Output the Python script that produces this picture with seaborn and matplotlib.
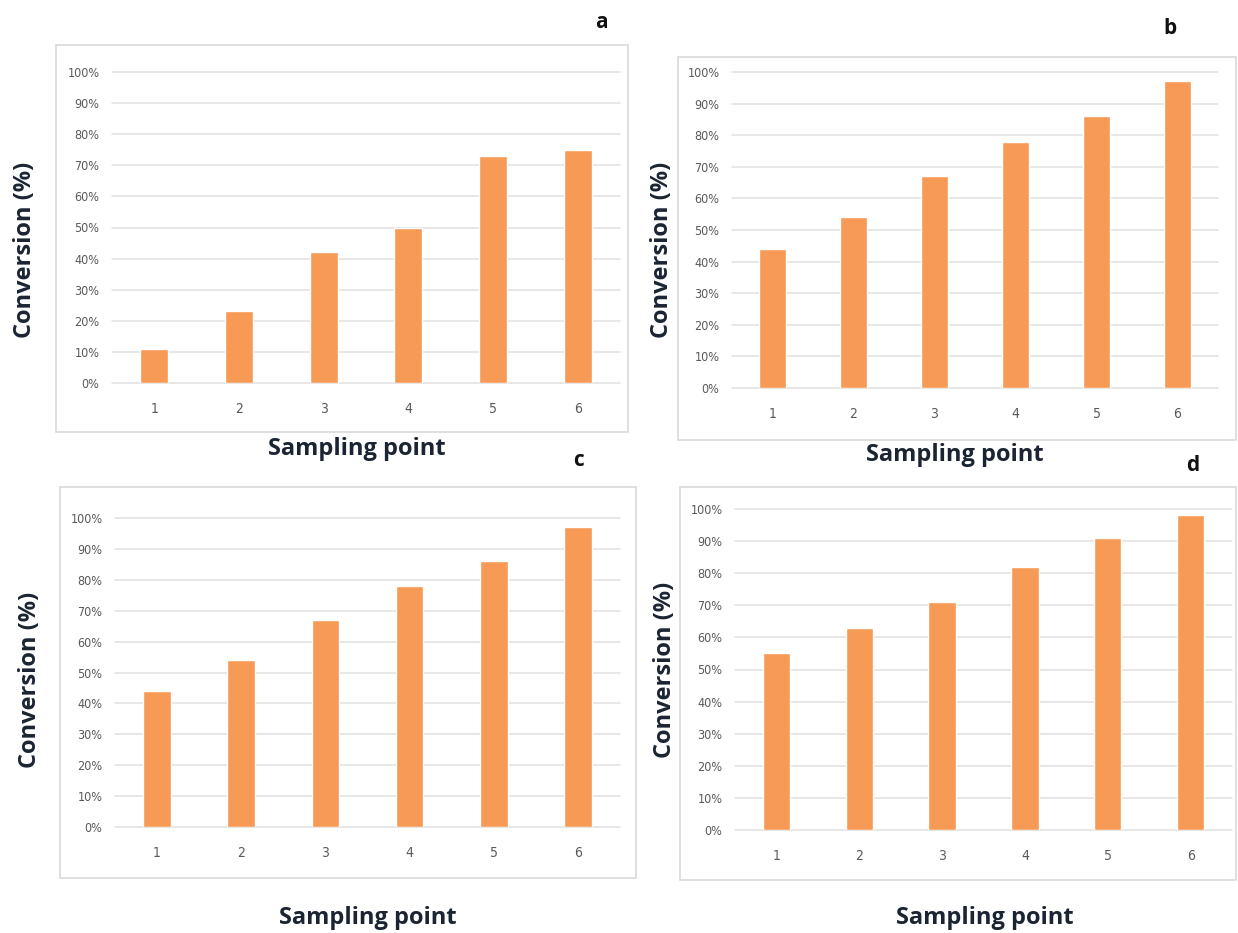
import numpy as np
import pandas as pd
import matplotlib.pyplot as plt
import seaborn as sns
from matplotlib.patches import Rectangle

sns.set_theme(style="white")
plt.rcParams["font.family"] = ["Open Sans", "DejaVu Sans"]

# Sampling points and conversion (%) for each panel
points = ["1", "2", "3", "4", "5", "6"]
conv_a = [11, 23, 42, 50, 73, 75]
conv_b = [44, 54, 67, 78, 86, 97]
conv_c = [44, 54, 67, 78, 86, 97]
conv_d = [55, 63, 71, 82, 91, 98]
panel_letters = ["a", "b", "c", "d"]
y_ticks = list(range(0, 101, 10))

W, H = 1238, 933
fig = plt.figure(figsize=(W / 100, H / 100), dpi=100)


def fx(px):
    return px / W


def fy(py):
    return 1 - py / H


# pixel layout: axes box (left, right, top, bottom), frame box, label spots
layout = [
    dict(ax=(112, 620, 72, 383), box=(56, 628, 45, 432), letter=(601, 22), xl=(357, 449), yl=(25, 250)),
    dict(ax=(732, 1218, 72, 388), box=(678, 1236, 57, 440), letter=(1170, 28), xl=(955, 455), yl=(662, 250)),
    dict(ax=(115, 620, 518, 827), box=(60, 636, 487, 878), letter=(578, 461), xl=(368, 918), yl=(30, 680)),
    dict(ax=(735, 1232, 509, 830), box=(680, 1236, 487, 880), letter=(1193, 466), xl=(985, 918), yl=(665, 670)),
]
series = [conv_a, conv_b, conv_c, conv_d]

bar_color = "#F79A55"
label_color = "#1b2433"
tick_color = "#595959"
grid_color = "#E0E0E0"

for lay, vals, letter in zip(layout, series, panel_letters):
    l, r, t, b = lay["ax"]
    bl, br, bt, bb = lay["box"]

    # light frame around each chart (like an Excel chart area)
    fig.patches.append(
        Rectangle((fx(bl), fy(bb)), fx(br - bl), (bb - bt) / H,
                  transform=fig.transFigure, fill=False,
                  edgecolor="#D9D9D9", linewidth=1.2, zorder=0)
    )

    ax = fig.add_axes([fx(l), fy(b), fx(r - l), (b - t) / H])
    df = pd.DataFrame({"point": points, "conversion": vals})
    sns.barplot(data=df, x="point", y="conversion", color=bar_color,
                saturation=1, width=0.33, ax=ax, zorder=3)

    ax.set_ylim(0, 100)
    ax.set_xlim(-0.5, 5.5)
    ax.set_yticks(y_ticks)
    ax.set_yticklabels([f"{v}%" for v in y_ticks])
    for v in y_ticks:
        ax.axhline(v, color=grid_color, linewidth=1.1, zorder=1, clip_on=False)
    for s in ax.spines.values():
        s.set_visible(False)
    ax.tick_params(axis="y", length=0, pad=9, labelsize=9, labelcolor=tick_color)
    ax.tick_params(axis="x", length=0, pad=14, labelsize=10, labelcolor=tick_color)
    for lab in ax.get_yticklabels() + ax.get_xticklabels():
        lab.set_family("DejaVu Sans")
        lab.set_fontstretch("condensed")
    ax.set_xlabel("")
    ax.set_ylabel("")

    fig.text(fx(lay["xl"][0]), fy(lay["xl"][1]), "Sampling point",
             ha="center", va="center", fontsize=17, fontweight="bold", color=label_color)
    fig.text(fx(lay["yl"][0]), fy(lay["yl"][1]), "Conversion (%)",
             ha="center", va="center", rotation=90, fontsize=17,
             fontweight="bold", color=label_color)
    fig.text(fx(lay["letter"][0]), fy(lay["letter"][1]), letter,
             ha="center", va="center", fontsize=15, fontweight="bold", color="#111111")

fig.savefig("out.png", dpi=100, facecolor="white")
